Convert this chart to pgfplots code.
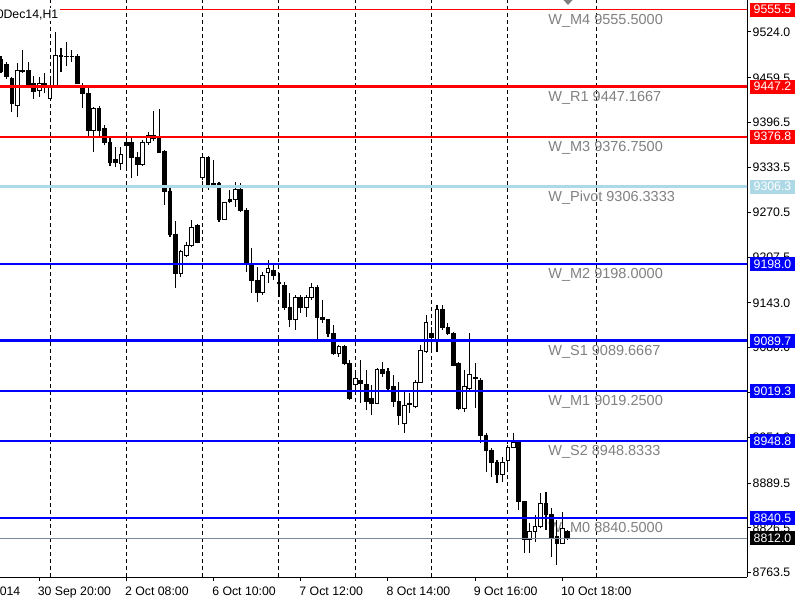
\documentclass[border=0pt]{standalone}
\usepackage{fontspec}
\setmainfont{Liberation Sans}
\usepackage{pgfplots}
\pgfplotsset{compat=1.18}
\usepackage{pgfplotstable}
\definecolor{mtblue}{RGB}{0,0,255}
\definecolor{mtred}{RGB}{255,0,0}
\definecolor{mtlb}{RGB}{173,216,230}
\definecolor{mtgray}{RGB}{128,128,128}
\definecolor{bidgray}{RGB}{119,136,153}

\pgfplotstableread{
i o h l c
0 9486 9490 9466 9469
1 9478 9482 9458 9461
2 9459 9460 9411.5 9424
3 9421 9480 9404 9470.5
4 9470.5 9499 9466 9469
5 9470.5 9482 9445 9449
6 9452 9462 9430 9440
7 9442.4 9461 9433 9451
8 9451 9466 9438 9448
9 9431 9459 9428 9449
10 9449 9524 9447 9491.6
11 9490 9501.5 9468 9491.6
12 9490 9510 9476 9489
13 9490 9499 9482 9489.5
14 9489 9493 9451 9452
15 9449 9452 9417 9438
16 9438 9449 9375 9386
17 9386 9418.5 9355 9417
18 9417 9420 9375 9386
19 9387.6 9393 9365 9368
20 9369 9375 9335.5 9341
21 9344 9362 9334 9341
22 9339.7 9362 9330 9351
23 9368 9375 9330 9365
24 9368 9375 9318.6 9347
25 9348 9355 9321.5 9337
26 9337 9372 9335.5 9368
27 9369 9383 9365 9379
28 9379 9413 9371 9373.5
29 9376 9416 9354 9355
30 9356.6 9358 9280.7 9299
31 9299 9306 9235.7 9238.5
32 9238.5 9258 9164 9185
33 9185 9217.4 9179.4 9214.6
34 9210.3 9228.6 9207.5 9224.4
35 9224.4 9259.6 9221.6 9249.7
36 9252.5 9254 9227 9228.6
37 9320 9354 9316 9347
38 9347 9349.6 9302 9310
39 9311.6 9344 9307 9309
40 9311.6 9313 9257 9259.6
41 9259.6 9285 9259.6 9283.5
42 9287.7 9302 9283.5 9285
43 9287.7 9313 9278 9303
44 9303 9311.6 9271 9273.6
45 9273.6 9276.4 9186.4 9196.3
46 9196.3 9220 9157 9175
47 9175 9193.5 9144 9157
48 9157 9186.4 9154 9182
49 9186.4 9203 9171 9190.7
50 9189 9196 9175 9182
51 9172 9185 9151 9169.6
52 9168 9172 9133 9137
53 9137 9157 9109 9119
54 9119 9154 9105 9151
55 9150 9154 9129 9136
56 9136 9154 9123 9150
57 9151 9171 9147 9165
58 9165 9168 9091 9122
59 9123 9147 9115 9119
60 9119 9120 9095 9100.6
61 9100.6 9112 9070 9072.5
62 9072.5 9084 9067 9081
63 9081 9084 9055.6 9058.4
64 9058.4 9062.7 9006.4 9009
65 9027.5 9046 9016 9037
66 9034.5 9063 9002 9029
67 9027.5 9048.6 8992 9003.6
68 9009 9027.5 8985 9002
69 9002 9051 9001 9048.6
70 9048.6 9060 9039 9044
71 9046 9051 9020.5 9023
72 9025 9041.6 8996.6 9003.6
73 9003.6 9031.7 8971 8985
74 8974 9020.5 8960 8999
75 9002 9016 8988 8999.4
76 8996.6 9034.5 8995 9031.7
77 9031.7 9084 9030 9076.7
78 9074 9126 9072.5 9116
79 9100.6 9109 9074 9095
80 9091 9140 9074 9133
81 9133 9140 9105 9107.7
82 9109 9114.7 9098 9100.6
83 9100.6 9102 9054 9055.6
84 9058.4 9060 8992 8995
85 8995 9048.6 8989.5 9024.7
86 9023 9100.6 9020.5 9041.6
87 9038.7 9058.4 8995 9037
88 9034.5 9037 8946 8957
89 8957 8960 8905 8936
90 8936 8939 8898 8918
91 8919 8922 8890 8901
92 8901 8926 8891 8918
93 8922 8943 8905 8939
94 8940 8960 8939 8947
95 8947 8948 8852 8863
96 8863 8863 8791 8809.5
97 8809.5 8833 8791 8821
98 8821 8845 8807 8828
99 8828 8876 8826 8861.5
100 8861.5 8877 8824 8845
101 8845 8854.5 8786 8812
102 8814 8838 8774 8805
103 8805 8849 8804 8826
104 8821 8824 8809.5 8812
}\candles

\newcommand{\axfont}{\fontsize{12.3}{14}\selectfont}
\newcommand{\lvfont}{\fontsize{14.5}{16}\selectfont}
\tikzset{lvl/.style={anchor=base west, text=mtgray, font=\lvfont, inner sep=0pt, yshift=-15pt},
  pbox/.style={anchor=west, text=white, inner xsep=3.5pt, inner ysep=0pt, minimum height=14pt, font=\axfont, fill=#1}}
\pgfplotsset{mtbase/.style={at={(0pt,23pt)}, anchor=south west, scale only axis,
  width=747pt, height=577pt, xmin=-0.1835, xmax=136.88, ymin=8757.45, ymax=9569}}

\begin{document}
\begin{tikzpicture}
\useasboundingbox (0pt,0pt) rectangle (800pt,600pt);
% axis 1: frame, ticks, grid, labels, wicks
\begin{axis}[
  mtbase,
  axis x line*=bottom, axis y line*=right,
  axis line style={black, line width=1pt, -},
  tick align=outside, major tick length=4pt,
  tick style={black, line width=1pt},
  xtick={7,23,39,55,71,87,103},
  xticklabels={30 Sep 20:00, 2 Oct 08:00, 6 Oct 10:00, 7 Oct 12:00, 8 Oct 14:00, 9 Oct 16:00, 10 Oct 18:00},
  xticklabel style={anchor=north west, inner sep=0pt, xshift=-1.5pt, yshift=-6pt, font=\axfont},
  ytick={8763.5,8826.5,8889.5,8954.0,9017.0,9080.0,9143.0,9207.5,9270.5,9333.5,9396.5,9459.5,9524.0},
  yticklabels={8763.5,8826.5,8889.5,8954.0,9017.0,9080.0,9143.0,9207.5,9270.5,9333.5,9396.5,9459.5,9524.0},
  yticklabel style={anchor=west, inner sep=0pt, xshift=1.5pt, font=\axfont},
  extra x ticks={9,23,37,51,65,79,93,109.2},
  extra x tick labels={},
  extra x tick style={grid=major, major tick length=0pt, major grid style={black, line width=1pt, dash pattern=on 4pt off 3pt}},
]
\node[lvl] at (axis cs:100.4,9555.5) {W\_M4 9555.5000};
\node[lvl] at (axis cs:100.4,9447.1667) {W\_R1 9447.1667};
\node[lvl] at (axis cs:100.4,9376.75) {W\_M3 9376.7500};
\node[lvl] at (axis cs:100.4,9306.3333) {W\_Pivot 9306.3333};
\node[lvl] at (axis cs:100.4,9198.0) {W\_M2 9198.0000};
\node[lvl] at (axis cs:100.4,9089.6667) {W\_S1 9089.6667};
\node[lvl] at (axis cs:100.4,9019.25) {W\_M1 9019.2500};
\node[lvl] at (axis cs:100.4,8948.8333) {W\_S2 8948.8333};
\node[lvl] at (axis cs:100.4,8840.5) {W\_M0 8840.5000};
% wicks: from low to high
\addplot[only marks, mark=*, mark options={draw=none, fill=none}, mark size=0pt,
  error bars/.cd, y dir=plus, y explicit, error mark=none,
  error bar style={black, line width=1.1pt}]
  table[x=i, y=l, y error expr=\thisrow{h}-\thisrow{l}] {\candles};
\end{axis}
% axis 2: candle bodies (stacked: invisible base, bear body, bull body)
\begin{axis}[mtbase, hide axis, ybar stacked, bar width=3.7pt]
\addplot[draw=none, fill=none] table[x=i, y expr={min(\thisrow{o},\thisrow{c})}] {\candles};
\addplot[draw=black, fill=black, line width=1pt] table[x=i, y expr={max(\thisrow{o}-\thisrow{c},0)}] {\candles};
\addplot[draw=black, fill=white, line width=1pt] table[x=i, y expr={max(\thisrow{c}-\thisrow{o},0)}] {\candles};
\end{axis}
% axis 3: level lines
\begin{axis}[mtbase, hide axis]
\addplot[mtred, line width=1.7pt] coordinates {(-1,9555.5) (140,9555.5)};
\addplot[mtred, line width=3pt] coordinates {(-1,9447.1667) (140,9447.1667)};
\addplot[mtred, line width=1.7pt] coordinates {(-1,9376.75) (140,9376.75)};
\addplot[mtlb, line width=2.7pt] coordinates {(-1,9306.3333) (140,9306.3333)};
\addplot[mtblue, line width=1.7pt] coordinates {(-1,9198.0) (140,9198.0)};
\addplot[mtblue, line width=2.8pt] coordinates {(-1,9089.6667) (140,9089.6667)};
\addplot[mtblue, line width=1.7pt] coordinates {(-1,9019.25) (140,9019.25)};
\addplot[mtblue, line width=2.8pt] coordinates {(-1,8948.8333) (140,8948.8333)};
\addplot[mtblue, line width=1.5pt] coordinates {(-1,8840.5) (140,8840.5)};
\addplot[bidgray, line width=1pt] coordinates {(-1,8812.0) (140,8812.0)};
\coordinate (pA) at (axis cs:136.88,9555.5);
\coordinate (pB) at (axis cs:136.88,9447.1667);
\coordinate (pC) at (axis cs:136.88,9376.75);
\coordinate (pD) at (axis cs:136.88,9306.3333);
\coordinate (pE) at (axis cs:136.88,9198.0);
\coordinate (pF) at (axis cs:136.88,9089.6667);
\coordinate (pG) at (axis cs:136.88,9019.25);
\coordinate (pH) at (axis cs:136.88,8948.8333);
\coordinate (pI) at (axis cs:136.88,8840.5);
\coordinate (pJ) at (axis cs:136.88,8812.0);
\end{axis}
% price boxes on the right
\node[pbox=mtred] at ([xshift=3pt]pA) {9555.5};
\node[pbox=mtred] at ([xshift=3pt]pB) {9447.2};
\node[pbox=mtred] at ([xshift=3pt]pC) {9376.8};
\node[pbox=mtlb] at ([xshift=3pt]pD) {9306.3};
\node[pbox=mtblue] at ([xshift=3pt]pE) {9198.0};
\node[pbox=mtblue] at ([xshift=3pt]pF) {9089.7};
\node[pbox=mtblue] at ([xshift=3pt]pG) {9019.3};
\node[pbox=mtblue] at ([xshift=3pt]pH) {8948.8};
\node[pbox=mtblue] at ([xshift=3pt]pI) {8840.5};
\node[pbox=black] at ([xshift=3pt]pJ) {8812.0};
% title and cut-off first date
\node[anchor=base east, fill=white, inner sep=1.5pt, font=\axfont] at (60pt,581.7pt) {10Dec14,H1};
\node[anchor=base east, inner sep=0pt, font=\axfont] at (20.5pt,5pt) {29 Sep 2014};
\fill[mtgray] (563.5pt,600pt) -- (572.5pt,600pt) -- (568pt,595pt) -- cycle;
\end{tikzpicture}
\end{document}
